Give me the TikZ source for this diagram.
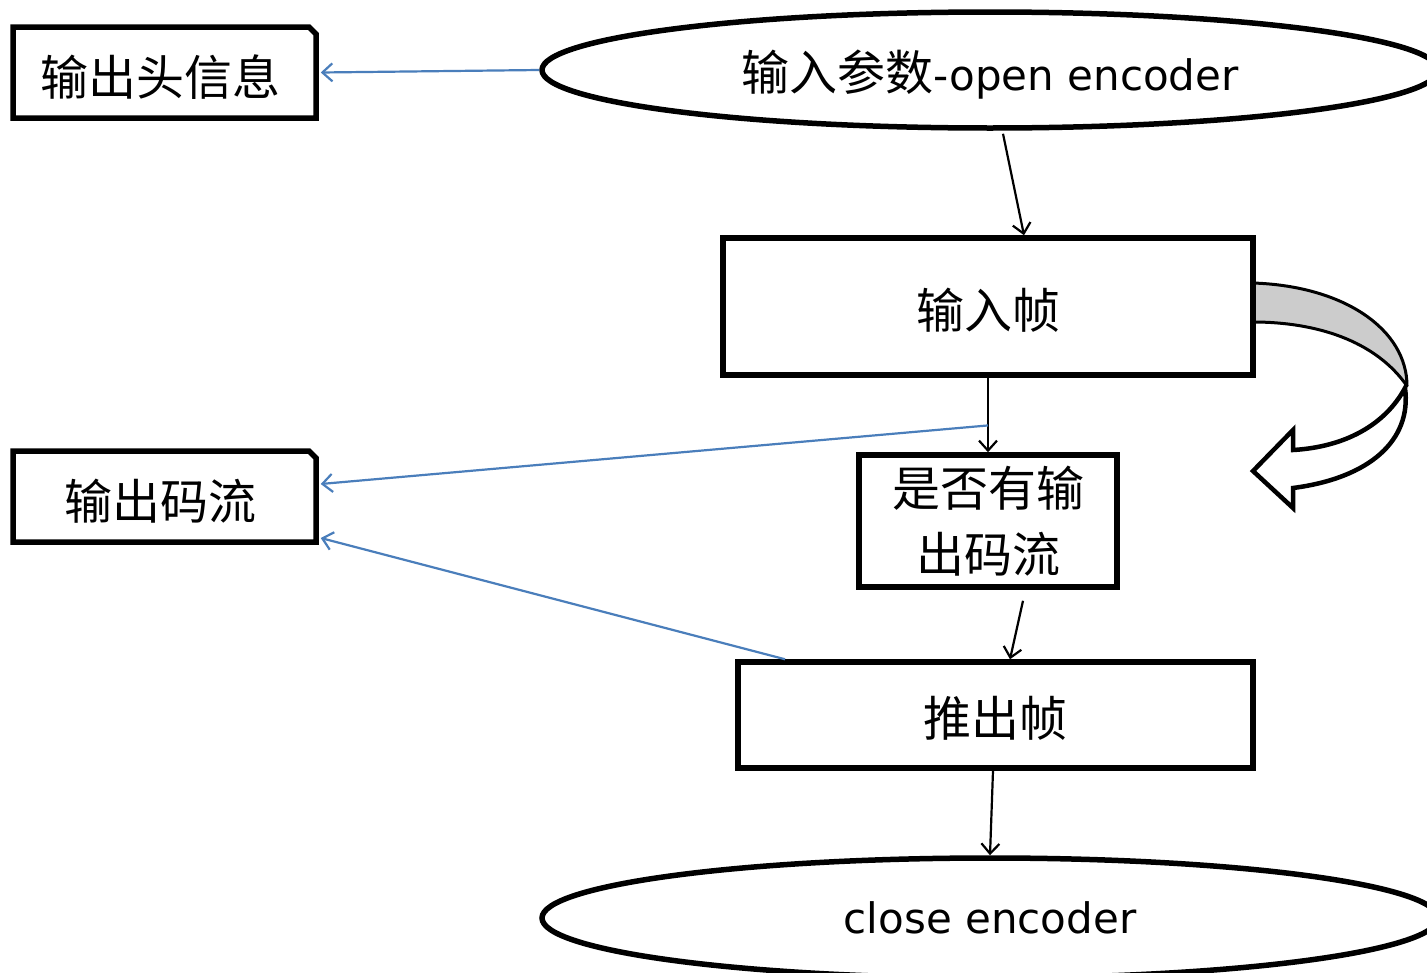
\documentclass[tikz,border=0pt]{standalone}
\usepackage{fontspec}
\setmainfont{DejaVu Sans}
\newfontfamily\cjk{Noto Sans CJK SC}
\usetikzlibrary{shapes.geometric,shapes.misc,arrows.meta,calc}
\definecolor{lblue}{HTML}{4A7EBB}
\definecolor{bandgray}{HTML}{CCCCCC}
\newcommand{\lowtext}[2]{\raisebox{#1}[0pt][0pt]{#2}}
\tikzset{
  boxstyle/.style={draw=black,line width=5.5pt,rectangle,inner sep=0pt,align=center,font=\cjk\fontsize{48}{66}\selectfont},
  notestyle/.style={draw=black,line width=5.5pt,chamfered rectangle,chamfered rectangle corners=north east,chamfered rectangle xsep=7pt,chamfered rectangle ysep=7pt,inner sep=0pt,minimum width=303pt,minimum height=91pt,font=\cjk\fontsize{48}{56}\selectfont},
  ellstyle/.style={draw=black,line width=5.5pt,ellipse,inner sep=0pt,font=\fontsize{42}{50}\selectfont},
  flowarrow/.style={draw=black,line width=2.2pt,-{Straight Barb[length=10pt,width=18pt,line width=2.2pt]}},
  bluearrow/.style={draw=lblue,line width=2.2pt,-{Straight Barb[length=10pt,width=18pt,line width=2.2pt]}}
}
\begin{document}
\begin{tikzpicture}[x=1pt,y=-1pt]
\clip (0,0) rectangle (1427,972);
\fill[white] (0,0) rectangle (1427,972);

\node[notestyle] (hdr) at (164.5,72.5) {\lowtext{-23pt}{\hspace*{-8pt}输出头信息}};
\node[notestyle] (stream) at (164.5,496.5) {\lowtext{-23pt}{\hspace*{-8pt}输出码流}};
\node[ellstyle,minimum width=896pt,minimum height=116pt] (open) at (990,70) {\lowtext{-20pt}{{\cjk\fontsize{48}{50}\selectfont 输入参数}-open encoder}};
\node[boxstyle,minimum width=530pt,minimum height=137pt] (inframe) at (988,306.5) {\lowtext{-22pt}{输入帧}};
\node[boxstyle,minimum width=258pt,minimum height=132pt] (check) at (988,521) {是否有输\\出码流};
\node[boxstyle,minimum width=515pt,minimum height=106pt] (flush) at (995.5,715) {\lowtext{-21pt}{推出帧}};
\node[ellstyle,minimum width=896pt,minimum height=120pt] (close) at (990,918) {close encoder};

% curved arrow
\draw[line width=3pt,fill=bandgray,line join=round] (1253,283) .. controls (1345,286) and (1407,330) .. (1407,386)
  .. controls (1375,340) and (1315,322) .. (1253,322);
\draw[line width=4.5pt,fill=white,line join=miter] (1405,388) .. controls (1385,425) and (1345,447) .. (1293,450)
  -- (1293,430) -- (1253,471) -- (1293,508) -- (1293,488)
  .. controls (1370,478) and (1412,440) .. (1405,388) -- cycle;
\draw[line width=5.5pt] (1253,281) -- (1253,324);

\coordinate (split) at ($(inframe.south)!0.64!(check.north)$);

\draw[bluearrow] (open.west) -- ([xshift=2pt]hdr.east);
\draw[flowarrow] ([xshift=13pt,yshift=-3pt]open.south) -- ([xshift=36pt]inframe.north);
\draw[flowarrow] (inframe.south) -- (check.north);
\draw[bluearrow] (split) -- ([xshift=2pt,yshift=12.5pt]stream.east);
\draw[bluearrow] ([xshift=-210.5pt]flush.north) -- ([xshift=2pt,yshift=-41.5pt]stream.east);
\draw[flowarrow] ([xshift=35pt,yshift=-11pt]check.south) -- ([xshift=14.5pt]flush.north);
\draw[flowarrow] ([xshift=-2.5pt]flush.south) -- (close.north);
\end{tikzpicture}
\end{document}
